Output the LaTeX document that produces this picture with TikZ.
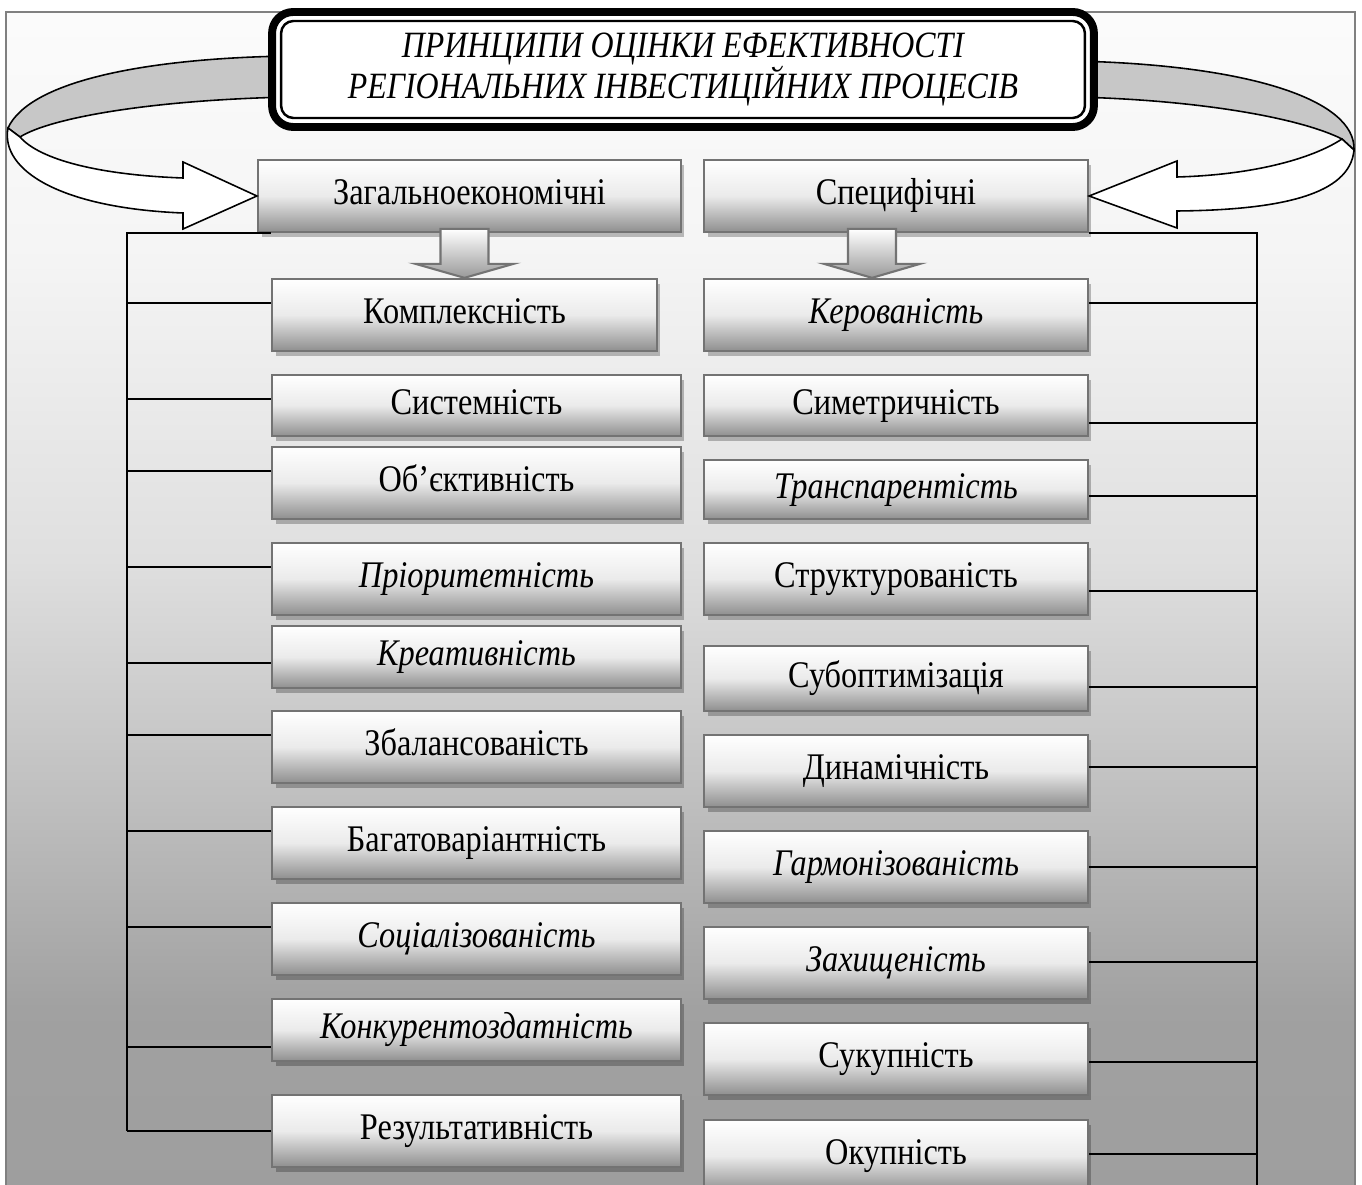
\documentclass[tikz,border=0pt]{standalone}
\usepackage{fontspec}
\setmainfont{Liberation Serif}[FakeStretch=0.86]
\usetikzlibrary{shadows}

\pgfdeclareverticalshading{framefill}{100bp}{rgb(0bp)=(.62,.62,.62); rgb(25bp)=(.62,.62,.62); rgb(33bp)=(.63,.63,.63); rgb(42bp)=(.75,.75,.75); rgb(52bp)=(.875,.875,.875); rgb(65bp)=(.96,.96,.96); rgb(75bp)=(.985,.985,.985); rgb(100bp)=(.985,.985,.985)}

\tikzset{
  princ/.style={draw=black!55, line width=1.3pt, top color=white, bottom color=black!44, middle color=black!8,
    minimum width=8.18cm, minimum height=1.44cm, inner sep=0pt, text height=15pt, text depth=5pt,
    font=\fontsize{21.4}{25}\selectfont,
    drop shadow={shadow xshift=2pt, shadow yshift=-2.8pt, opacity=.25, fill=black}},
  rprinc/.style={princ, minimum width=7.68cm},
  titl/.style={draw, fill=white, line width=4.5pt, rounded corners=12pt, outer sep=0pt,
    minimum width=16.44cm, minimum height=2.3cm, align=center, font=\fontsize{21.1}{22.7}\selectfont\itshape},
  link/.style={line width=1.1pt},
  ribback/.style={draw, line width=.9pt, fill=black!22},
  ribfront/.style={draw, line width=.9pt, fill=white},
  downarr/.style={draw=black!55, line width=1.2pt, top color=white, bottom color=black!40}
}

\begin{document}
\begin{tikzpicture}[x=0.02cm, y=-0.02cm]
\useasboundingbox (0,0) rectangle (1362,1185);
\clip (0,0) rectangle (1362,1185);
\fill[white] (0,0) rectangle (1362,1185);
\shade[shading=framefill] (6,12) rectangle (1355,1200);
\draw[black!50, line width=1.1pt] (6,1200) -- (6,12) -- (1355,12) -- (1355,1200);

\draw[ribback] (290,56) .. controls (150,58) and (30,80) .. (8,128) -- (20,137) .. controls (50,118) and (150,100) .. (290,97) -- cycle;
\draw[ribback] (1075,61) .. controls (1250,65) and (1356,100) .. (1354,150) -- (1342,139) .. controls (1300,118) and (1200,100) .. (1075,97) -- cycle;

\node[titl] (Title) at (683,69.5) {ПРИНЦИПИ ОЦІНКИ ЕФЕКТИВНОСТІ\\ РЕГІОНАЛЬНИХ ІНВЕСТИЦІЙНИХ ПРОЦЕСІВ};
\draw[line width=1.4pt, rounded corners=7pt] ([shift={(9,9)}]Title.north west) rectangle ([shift={(-9,-9)}]Title.south east);

\node[princ, minimum width=8.46cm] (Zahal) at (469.5,196) {Загальноекономічні};
\node[rprinc] (Spec) at (896,196) {Специфічні};

\draw[ribfront] (8,128) .. controls (0,170) and (60,208) .. (183,213) -- (183,229) -- (Zahal.west) -- (183,162) -- (183,178) .. controls (100,175) and (40,160) .. (20,137) -- cycle;
\draw[ribfront] (1354,150) .. controls (1350,195) and (1280,210) .. (1177,211) -- (1177,228) -- (Spec.east) -- (1177,161) -- (1177,177) .. controls (1250,175) and (1310,160) .. (1342,139) -- cycle;

\node[princ, minimum width=7.7cm] (Kompl) at (464.5,315) {Комплексність};
\node[princ, minimum height=1.22cm] (System) at (476.5,405.5) {Системність};
\node[princ] (Objekt) at (476.5,483) {Об’єктивність};
\node[princ] (Prior) at (476.5,579) {\itshape Пріоритетність};
\node[princ, minimum height=1.24cm] (Kreat) at (476.5,657) {\itshape Креативність};
\node[princ] (Zbal) at (476.5,747) {Збалансованість};
\node[princ] (Bahat) at (476.5,843) {Багатоваріантність};
\node[princ] (Sotsial) at (476.5,939) {\itshape Соціалізованість};
\node[princ, minimum height=1.24cm] (Konkur) at (476.5,1030) {\itshape Конкурентоздатність};
\node[princ] (Rezult) at (476.5,1131) {Результативність};

\node[rprinc] (Kerov) at (896,315) {\itshape Керованість};
\node[rprinc, minimum height=1.22cm] (Symetr) at (896,405.5) {Симетричність};
\node[rprinc, minimum height=1.18cm] (Transp) at (896,489.5) {\itshape Транспарентість};
\node[rprinc] (Strukt) at (896,579) {Структурованість};
\node[rprinc, minimum height=1.3cm] (Subopt) at (896,678.5) {Субоптимізація};
\node[rprinc] (Dynam) at (896,771) {Динамічність};
\node[rprinc] (Harmon) at (896,867) {\itshape Гармонізованість};
\node[rprinc] (Zakhyst) at (896,963) {\itshape Захищеність};
\node[rprinc] (Sukup) at (896,1059) {Сукупність};
\node[rprinc] (Okup) at (896,1156) {Окупність};

\shade[downarr] (Kompl.north) -- ++(49,-14) -- ++(-25,0) -- ++(0,-35) -- ++(-48,0) -- ++(0,35) -- ++(-25,0) -- cycle;
\shade[downarr] ([shift={(-24,0)}]Kerov.north) -- ++(48,-14) -- ++(-24,0) -- ++(0,-35) -- ++(-48,0) -- ++(0,35) -- ++(-24,0) -- cycle;

\coordinate (LTop) at ([shift={(-130,0)}]Zahal.south west);
\coordinate (RTop) at ([shift={(168,0)}]Spec.south east);
\foreach \n/\d in {Kompl/-12, System/-6.5, Objekt/-12, Prior/-12, Kreat/6, Zbal/-12, Bahat/-12, Sotsial/-12, Konkur/17, Rezult/0}{
  \coordinate (\n-b) at ([shift={(0,\d)}]\n.west);
  \draw[link] (\n-b) -- (\n-b -| LTop);
}
\foreach \n/\d in {Kerov/-12, Symetr/17.5, Transp/6.5, Strukt/12, Subopt/8.5, Dynam/-4, Harmon/0, Zakhyst/-1, Sukup/3, Okup/-2}{
  \coordinate (\n-b) at ([shift={(0,\d)}]\n.east);
  \draw[link] (\n-b) -- (\n-b -| RTop);
}
\draw[link] ([shift={(14,0)}]Zahal.south west) -- (LTop) -- (Rezult-b -| LTop);
\draw[link] (Spec.south east) -- (RTop) -- (Okup.south -| RTop);
\end{tikzpicture}
\end{document}
